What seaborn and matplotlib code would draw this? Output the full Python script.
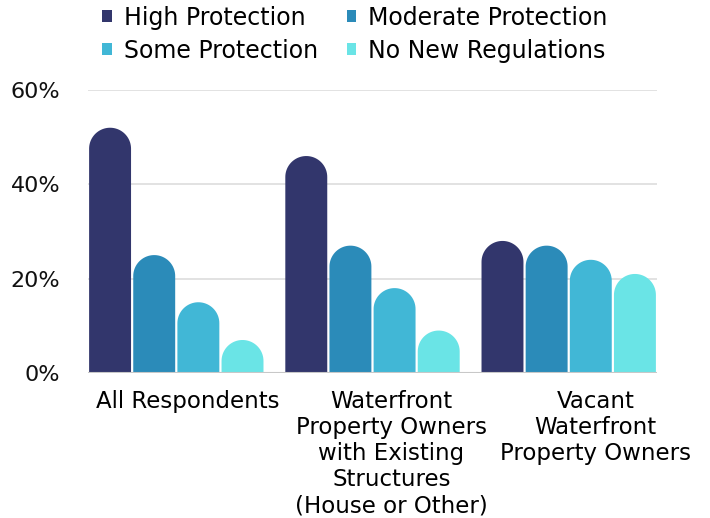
import numpy as np
import pandas as pd
import matplotlib
matplotlib.use("Agg")
import matplotlib.pyplot as plt
import seaborn as sns
from matplotlib.patches import Patch, PathPatch
from matplotlib.path import Path
from matplotlib.transforms import ScaledTranslation

# ---- data ----
categories = ["All Respondents",
              "Waterfront\nProperty Owners\nwith Existing\nStructures\n(House or Other)",
              "Vacant\nWaterfront\nProperty Owners"]
series = ["High Protection", "Moderate Protection", "Some Protection", "No New Regulations"]
high_protection = [52, 46, 28]
moderate_protection = [25, 27, 27]
some_protection = [15, 18, 24]
no_new_regulations = [7, 9, 21]
yticks = [0, 20, 40, 60]
ytick_labels = ["0%", "20%", "40%", "60%"]
colors = ["#32366C", "#2B8BB9", "#41B7D6", "#6AE4E6"]

rows = []
for s, vals in zip(series, [high_protection, moderate_protection, some_protection, no_new_regulations]):
    for c, v in zip(categories, vals):
        rows.append({"group": c, "series": s, "value": v})
df = pd.DataFrame(rows)

sns.set_theme(style="white")
plt.rcParams["font.family"] = ["DejaVu Sans"]

fig = plt.figure(figsize=(7.10, 5.18), dpi=100)
ax = fig.add_axes([88/710, (518-373)/518, (657-88)/710, (373-90)/518])

sns.barplot(data=df, x="group", y="value", hue="series", order=categories,
            hue_order=series, palette=colors, width=0.9, gap=0.05,
            ax=ax, legend=False, saturation=1, zorder=3)

ax.set_xlim(-0.45, 2.45)
ax.set_ylim(0, 60)

# round bar tops
p0 = ax.transData.transform((0, 0))
p1 = ax.transData.transform((1, 1))
sx, sy = p1[0] - p0[0], p1[1] - p0[1]
bars = [p for p in ax.patches]
for rect in bars:
    x, y, w, h = rect.get_x(), rect.get_y(), rect.get_width(), rect.get_height()
    if h <= 0:
        continue
    r_px = w * sx / 2
    ry = r_px / sy
    top = y + h
    t = np.linspace(np.pi, 0, 40)
    verts = [(x, y), (x, top - ry)]
    verts += [(x + w/2 + w/2*np.cos(a), top - ry + ry*np.sin(a)) for a in t]
    verts += [(x + w, y), (x, y)]
    codes = [Path.MOVETO] + [Path.LINETO]*(len(verts)-2) + [Path.CLOSEPOLY]
    pp = PathPatch(Path(verts, codes), facecolor=rect.get_facecolor(),
                   edgecolor="none", zorder=3)
    ax.add_patch(pp)
    rect.set_visible(False)

# grid
ax.set_yticks(yticks)
ax.set_yticklabels(ytick_labels)
ax.yaxis.grid(True, color="#dddddd", linewidth=1.2, zorder=0)
ax.set_axisbelow(True)
for sp in ax.spines.values():
    sp.set_visible(False)
ax.axhline(0, color="#c8c8c8", linewidth=1.5, zorder=4)

ax.tick_params(axis="y", length=0, pad=20, labelsize=16, labelcolor="#111111")
ax.tick_params(axis="x", length=0, pad=12, labelsize=16.5, labelcolor="#000000")
ax.set_xlabel("")
ax.set_ylabel("")

offsets = [11, 19, 27]
for lab, off in zip(ax.get_xticklabels(), offsets):
    lab.set_linespacing(1.18)
    lab.set_transform(lab.get_transform() + ScaledTranslation(off/100, 0, fig.dpi_scale_trans))

# legend
order = [0, 2, 1, 3]
handles = [Patch(facecolor=colors[i], edgecolor="none") for i in order]
labels = [series[i] for i in order]
leg = fig.legend(handles, labels, ncol=2, loc="upper center", bbox_to_anchor=(0.5, 1.012),
                 frameon=False, fontsize=17, handlelength=0.42, handleheight=0.42,
                 handletextpad=0.5, columnspacing=1.2, labelspacing=0.38, borderpad=0.0)
for t in leg.get_texts():
    t.set_color("#000000")

fig.savefig("out.png", dpi=100, facecolor="white")
